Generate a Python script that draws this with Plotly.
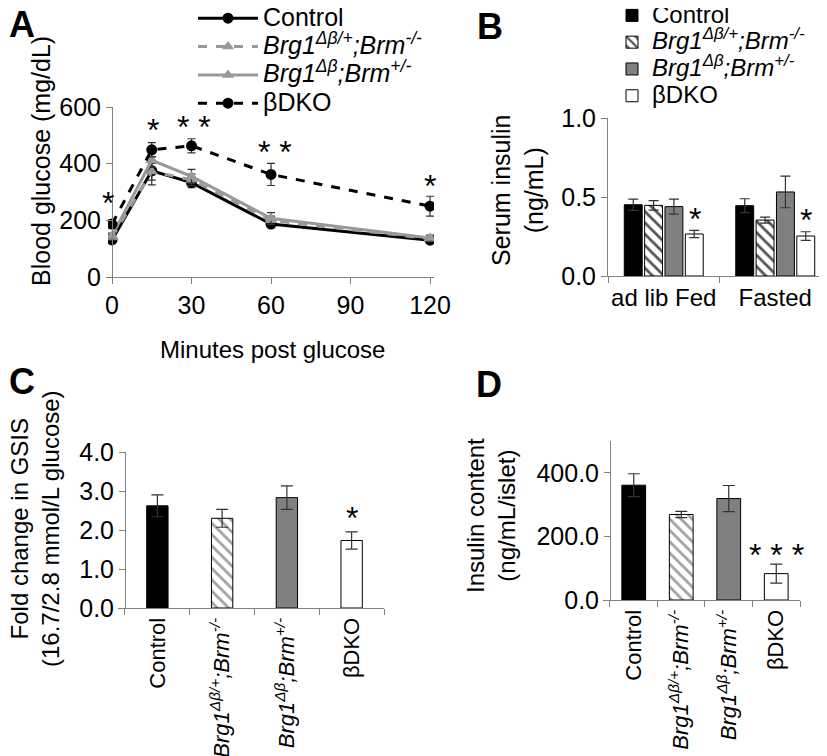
import plotly.graph_objects as go

W, H = 827, 756
def fx(p): return p / W
def fy(p): return 1 - p / H

FONT = "Liberation Sans, Arial, sans-serif"
AXC = "#808080"

# ---------------- data ----------------
# Panel A: glucose tolerance test
minutes = [0, 15, 30, 60, 120]
ctrl_glc = [131, 375, 333, 187, 130]
ctrl_glc_err = [10, 50, 18, 12, 8]
hetA_glc = [140, 372, 343, 200, 135]          # Brg1Δβ/+;Brm-/-
hetA_glc_err = [10, 30, 20, 15, 8]
hetB_glc = [145, 412, 355, 207, 138]          # Brg1Δβ;Brm+/-
hetB_glc_err = [10, 25, 25, 20, 10]
dko_glc = [187, 449, 463, 362, 250]
dko_glc_err = [15, 25, 25, 39, 35]
a_star_x = [-1.5, 15.5, 31, 61.5, 120]
a_star_y = [260, 520, 530, 440, 322]
a_star_txt = ["*", "*", "* *", "* *", "*"]

# Panel B: serum insulin
b_cats = ["ad lib Fed", "Fasted"]
ctrl_ins = [0.451, 0.445]
ctrl_ins_err = [0.036, 0.044]
hetA_ins = [0.447, 0.354]
hetA_ins_err = [0.030, 0.019]
hetB_ins = [0.439, 0.532]
hetB_ins_err = [0.048, 0.100]
dko_ins = [0.266, 0.253]
dko_ins_err = [0.023, 0.027]
b_star_y = [0.36, 0.355]

# Panel C: GSIS fold change
groups = ["Control", "<i>Brg1<sup>Δβ/+</sup>;Brm<sup>-/-</sup></i>",
          "<i>Brg1<sup>Δβ</sup>;Brm<sup>+/-</sup></i>", "βDKO"]
gsis = [2.62, 2.30, 2.83, 1.73]
gsis_err = [0.28, 0.23, 0.30, 0.22]
c_star_y = 2.3

# Panel D: insulin content
content = [361, 269, 319, 83]
content_err = [36, 10, 41, 30]
d_star_y = 140

legend_names = ["Control", "<i>Brg1<sup>Δβ/+</sup>;Brm<sup>-/-</sup></i>",
                "<i>Brg1<sup>Δβ</sup>;Brm<sup>+/-</sup></i>", "βDKO"]

GRAY_LINE = "#999999"
bar_colors = ["black", "white", "#808080", "white"]
bar_shapes = ["", "\\", "", ""]

def big(t, s=25):
    return f'<span style="font-size:{s}px">{t}</span>'

fig = go.Figure()

# ---------------- Panel A ----------------
lineA = [
    (ctrl_glc, ctrl_glc_err, "black", "solid", "circle"),
    (hetA_glc, hetA_glc_err, GRAY_LINE, "dash", "triangle-up"),
    (hetB_glc, hetB_glc_err, GRAY_LINE, "solid", "triangle-up"),
    (dko_glc, dko_glc_err, "black", "dash", "circle"),
]
for i, (vals, errs, col, dash, sym) in enumerate(lineA):
    fig.add_trace(go.Scatter(
        x=minutes, y=vals, name=big(legend_names[i]), mode="lines+markers",
        line=dict(color=col, width=3, dash=dash),
        marker=dict(color=col, size=11, symbol=sym),
        error_y=dict(type="data", array=errs, color="#333333", thickness=1.2, width=4),
        xaxis="x", yaxis="y", legend="legend"))

# ---------------- Panel B ----------------
b_series = [(ctrl_ins, ctrl_ins_err), (hetA_ins, hetA_ins_err),
            (hetB_ins, hetB_ins_err), (dko_ins, dko_ins_err)]
for i, (vals, errs) in enumerate(b_series):
    fig.add_trace(go.Bar(
        x=b_cats, y=vals, name=big(legend_names[i], 24),
        marker=dict(color=bar_colors[i], line=dict(color="black", width=1),
                    pattern=dict(shape=bar_shapes[i], fgcolor="#555555", bgcolor="white",
                                 size=8, solidity=0.35, fillmode="replace")),
        error_y=dict(type="data", array=errs, color="#333333", thickness=1.2, width=5),
        xaxis="x2", yaxis="y2", legend="legend2"))

# ---------------- Panel C ----------------
fig.add_trace(go.Bar(
    x=groups, y=gsis, width=0.33, showlegend=False,
    marker=dict(color=bar_colors, line=dict(color="black", width=1),
                pattern=dict(shape=bar_shapes, fgcolor="#555555", bgcolor="white",
                             size=8, solidity=0.35)),
    error_y=dict(type="data", array=gsis_err, color="#333333", thickness=1.2, width=6),
    xaxis="x3", yaxis="y3"))

# ---------------- Panel D ----------------
fig.add_trace(go.Bar(
    x=groups, y=content, width=0.5, showlegend=False,
    marker=dict(color=bar_colors, line=dict(color="black", width=1),
                pattern=dict(shape=bar_shapes, fgcolor="#555555", bgcolor="white",
                             size=8, solidity=0.35)),
    error_y=dict(type="data", array=content_err, color="#333333", thickness=1.2, width=6),
    xaxis="x4", yaxis="y4"))

def ax(size=25, **kw):
    d = dict(showline=True, linecolor=AXC, linewidth=1, ticks="outside",
             tickcolor=AXC, ticklen=6, showgrid=False, zeroline=False,
             tickfont=dict(family=FONT, size=size, color="black"))
    d.update(kw)
    return d

fig.update_layout(
    width=W, height=H, margin=dict(l=0, r=0, t=0, b=0, autoexpand=False),
    paper_bgcolor="white", plot_bgcolor="white",
    font=dict(family=FONT, color="black"),
    barmode="group", bargap=0.27, bargroupgap=0.12,
    xaxis=ax(domain=[fx(100), fx(426)], range=[-1.51, 121.5], anchor="y",
             tickvals=[0, 30, 60, 90, 120]),
    yaxis=ax(domain=[fy(269), fy(99)], range=[0, 600], anchor="free", position=fx(104),
             tickvals=[0, 200, 400, 600]),
    xaxis2=ax(24, domain=[fx(600), fx(823)], anchor="y2", tickson="boundaries",
              tickangle=0),
    yaxis2=ax(domain=[fy(268), fy(110)], range=[0, 1], anchor="x2",
              tickvals=[0, 0.5, 1.0], tickformat=".1f"),
    xaxis3=ax(22, domain=[fx(110), fx(376)], range=[-0.608, 3.5], anchor="y3",
              tickson="boundaries", tickangle=-90, ticklabelstandoff=0),
    yaxis3=ax(domain=[fy(600), fy(444)], range=[0, 4], anchor="free", position=fx(117),
              tickvals=[0, 1, 2, 3, 4], tickformat=".1f"),
    xaxis4=ax(22, domain=[fx(595), fx(792)], range=[-0.647, 3.5], anchor="y4",
              tickson="boundaries", tickangle=-90, ticklabelstandoff=0),
    yaxis4=ax(domain=[fy(592), fy(433)], range=[0, 500], anchor="free", position=fx(602),
              tickvals=[0, 200, 400], tickformat=".1f"),
    legend=dict(x=fx(185), y=fy(-9), xanchor="left", yanchor="top",
                font=dict(family=FONT, size=19.5, color="black"),
                bgcolor="rgba(0,0,0,0)", tracegroupgap=0, itemwidth=60),
    legend2=dict(x=fx(604), y=fy(-11), xanchor="left", yanchor="top",
                 font=dict(family=FONT, size=18.3, color="black"),
                 bgcolor="rgba(0,0,0,0)", tracegroupgap=0, itemwidth=30),
)

ann = []
STAR = dict(size=32, family=FONT, color="black")
for x, y, t in zip(a_star_x, a_star_y, a_star_txt):
    ann.append(dict(x=x, y=y, xref="x", yref="y", text=t, showarrow=False,
                    font=STAR, yanchor="middle"))
for i, y in enumerate(b_star_y):
    ann.append(dict(x=b_cats[i], y=y, xref="x2", yref="y2", text="*", showarrow=False,
                    xshift=31, font=STAR, yanchor="middle"))
ann.append(dict(x=groups[3], y=c_star_y, xref="x3", yref="y3", text="*", showarrow=False,
                font=STAR, yanchor="middle"))
ann.append(dict(x=groups[3], y=d_star_y, xref="x4", yref="y4", text="* * *", showarrow=False,
                font=STAR, yanchor="middle"))

def label(px, py, text, size=25, angle=0, bold=False):
    ann.append(dict(x=fx(px), y=fy(py), xref="paper", yref="paper", text=text,
                    showarrow=False, textangle=angle, xanchor="center", yanchor="middle",
                    font=dict(size=size, family=FONT, color="black",
                              weight="bold" if bold else "normal")))

# axis titles
label(33, 153, "Blood glucose (mg/dL)", angle=-90)
label(264, 341, "Minutes post glucose", size=24)
label(510, 182, "Serum insulin<br>(ng/mL)", angle=-90)
label(27, 521, "Fold change in GSIS<br>(16.7/2.8 mmol/L glucose)", size=24, angle=-90)
label(483, 508, "Insulin content<br>(ng/mL/islet)", size=24, angle=-90)

# panel letters
label(14, 17, "A", size=36, bold=True)
label(482, 18, "B", size=36, bold=True)
label(14, 373, "C", size=36, bold=True)
label(481, 377, "D", size=36, bold=True)

fig.update_layout(annotations=ann)
fig.write_html("out.html")
